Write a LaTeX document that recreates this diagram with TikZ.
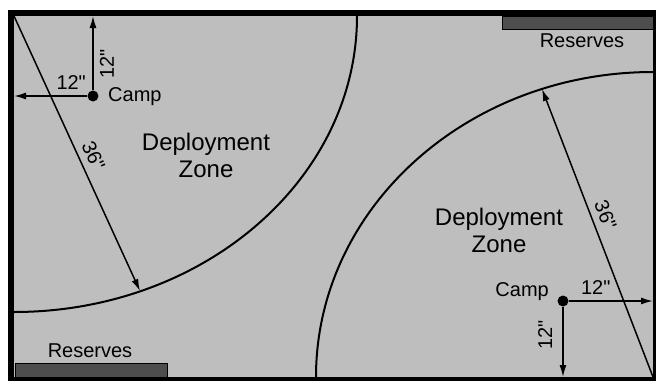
\documentclass[tikz,border=0pt]{standalone}
\usepackage{fontspec}
\setmainfont{Liberation Sans}[Ligatures=TeXOff]
\usetikzlibrary{arrows.meta}
\definecolor{tablegray}{RGB}{190,190,190}
\definecolor{reservegray}{RGB}{78,78,78}

\begin{document}
\begin{tikzpicture}[x=1pt, y=-1pt,
        lbl/.style={font=\fontsize{20}{23}\selectfont, inner sep=1pt},
        dimlbl/.style={lbl, outer sep=6pt},
        zonelbl/.style={font=\fontsize{24}{27}\selectfont, align=center, inner sep=0pt},
        dim/.style={line width=1.5pt, -{Latex[length=12pt, width=7pt]}},
        campdot/.style={circle, fill=black, minimum size=11pt, inner sep=0pt},
        reservebar/.style={fill=reservegray, draw=black, line width=1pt}]
        \useasboundingbox (0,0) rectangle (656,381);
        \fill[black] (8,10) rectangle (656,381);
        \fill[tablegray] (14,16) rectangle (653,377);

        % deployment zones
        \begin{scope}
            \clip (14,16) rectangle (653,377);
            \draw[line width=2pt] (14,16) ellipse [x radius=343, y radius=296];
            \draw[line width=2pt] (653,377) ellipse [x radius=337, y radius=305];
        \end{scope}
        \node[zonelbl] (zone1) at (206,155) {Deployment\\Zone};
        \node[zonelbl] (zone2) at (499,230) {Deployment\\Zone};

        % reserves
        \draw[reservebar] (502,16) rectangle (653,29);
        \draw[reservebar] (15,363) rectangle (167,377);
        \node[lbl] (res1) at (582,41) {Reserves};
        \node[lbl] (res2) at (90,351) {Reserves};

        % camps
        \node[campdot] (camp1) at (93,96) {};
        \node[campdot] (camp2) at (563,301) {};
        \node[lbl, anchor=west] (camp1lbl) at ([shift={(14,1)}]camp1) {Camp};
        \node[lbl, anchor=east] (camp2lbl) at ([shift={(-13,-9)}]camp2) {Camp};

        \coordinate (camp1top) at (93,16);
        \coordinate (camp1left) at (14,96);
        \coordinate (camp2right) at (653,301);
        \coordinate (camp2bot) at (563,377);
        \draw[dim] (camp1) -- node[dimlbl, rotate=90, anchor=north, pos=0.35] {12"} (camp1top);
        \draw[dim] (camp1) -- node[dimlbl, above, pos=0.22] {12"} (camp1left);
        \draw[dim] (camp2) -- node[dimlbl, above, pos=0.32] {12"} (camp2right);
        \draw[dim] (camp2) -- node[dimlbl, rotate=90, anchor=south, outer sep=10pt, pos=0.4] {12"} (camp2bot);

        % 36 inch radius
        \coordinate (corner1) at (14,16);
        \coordinate (arc1) at (140,291);
        \coordinate (corner2) at (653,377);
        \coordinate (arc2) at (542,89);
        \draw[dim] (corner1) -- node[dimlbl, sloped, above, pos=0.53] {36"} (arc1);
        \draw[dim] (corner2) -- node[dimlbl, sloped, above, pos=0.545] {36"} (arc2);
\end{tikzpicture}
\end{document}
